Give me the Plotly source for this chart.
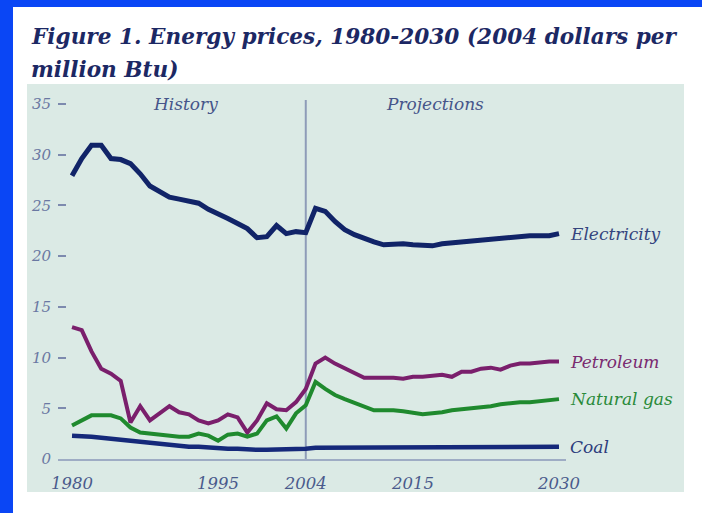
import plotly.graph_objects as go

years = list(range(1980, 2031))

electricity = [27.9, 29.6, 30.9, 30.9, 29.6, 29.5, 29.1, 28.1, 26.9, 26.3,
               25.8, 25.6, 25.4, 25.2, 24.6, 24.2, 23.7, 23.2, 22.7, 21.8,
               21.9, 23.0, 22.2, 22.4, 22.3, 24.7, 24.4, 23.4, 22.6, 22.1,
               21.7, 21.4, 21.1, 21.2, 21.2, 21.1, 21.0, 21.0, 21.2, 21.3,
               21.4, 21.5, 21.6, 21.6, 21.8, 21.9, 21.9, 22.0, 22.0, 22.0,
               22.2]

petroleum = [13.0, 12.7, 10.6, 8.9, 8.4, 7.7, 3.6, 5.2, 3.8, 4.5,
             5.2, 4.6, 4.4, 3.8, 3.5, 3.8, 4.4, 4.1, 2.6, 3.8,
             5.5, 4.9, 4.8, 5.6, 6.9, 9.4, 10.0, 9.4, 8.9, 8.4,
             8.0, 8.0, 8.0, 8.0, 7.9, 8.1, 8.1, 8.2, 8.3, 8.1,
             8.6, 8.6, 8.9, 9.0, 8.8, 9.2, 9.4, 9.4, 9.5, 9.6,
             9.6]

natural_gas = [3.3, 3.8, 4.3, 4.3, 4.3, 4.0, 3.1, 2.6, 2.5, 2.4,
               2.3, 2.2, 2.2, 2.5, 2.3, 1.8, 2.4, 2.5, 2.2, 2.5,
               3.8, 4.2, 3.0, 4.5, 5.3, 7.6, 6.9, 6.3, 5.9, 5.5,
               5.1, 4.8, 4.8, 4.8, 4.7, 4.5, 4.4, 4.5, 4.6, 4.8,
               4.9, 5.0, 5.1, 5.2, 5.4, 5.5, 5.6, 5.6, 5.7, 5.8,
               5.9]

coal = [2.3, 2.3, 2.2, 2.1, 2.0, 1.8, 1.7, 1.6, 1.5, 1.4,
        1.4, 1.3, 1.2, 1.2, 1.1, 1.0, 1.0, 1.0, 0.9, 0.9,
        0.9, 0.9, 0.9, 0.9, 1.0, 1.1, 1.1, 1.2, 1.2, 1.2,
        1.2, 1.2, 1.2, 1.1, 1.1, 1.1, 1.1, 1.1, 1.1, 1.1,
        1.1, 1.1, 1.1, 1.1, 1.1, 1.1, 1.1, 1.1, 1.2, 1.2,
        1.2]

series_names = ["Electricity", "Petroleum", "Natural gas", "Coal"]
series_values = [electricity, petroleum, natural_gas, coal]
line_colors = ["#112468", "#7a1f6c", "#1f8a2e", "#15297a"]
label_colors = ["#34447e", "#7a2a70", "#2a8a3a", "#2c3c7c"]
line_widths = [5, 4, 4, 4.5]

y_tick_vals = [0, 5, 10, 15, 20, 25, 30, 35]
y_tick_text = ["0", "5", "10", "15", "20", "25", "30", "35"]
x_tick_vals = [1980, 1995, 2004, 2015, 2030]
x_tick_text = ["1980", "1995", "2004", "2015", "2030"]
divider_year = 2004
period_labels = ["History", "Projections"]
period_label_x = [1991.6, 2017.3]

title_line1 = "Figure 1. Energy prices, 1980-2030 (2004 dollars per"
title_line2 = "million Btu)"

SERIF = "DejaVu Serif"

fig = go.Figure()
for name, vals, col, w in zip(series_names, series_values, line_colors, line_widths):
    fig.add_trace(go.Scatter(x=years, y=vals, mode="lines", name=name,
                             line=dict(color=col, width=w), showlegend=False,
                             cliponaxis=False))

# layout geometry (pixels)
W, H = 702, 513
L, R, T, B = 58, 136, 95, 54
pw, ph = W - L - R, H - T - B


def fx(px):
    return (px - L) / pw


def fy(py):
    return (H - B - py) / ph


shapes = [
    # green panel
    dict(type="rect", xref="paper", yref="paper", x0=fx(27), x1=fx(684),
         y0=fy(492), y1=fy(84), fillcolor="#dbeae5", line=dict(width=0), layer="below"),
    # blue frame strips
    dict(type="rect", xref="paper", yref="paper", x0=fx(0), x1=fx(13),
         y0=fy(H), y1=fy(0), fillcolor="#0a46f5", line=dict(width=0), layer="below"),
    dict(type="rect", xref="paper", yref="paper", x0=fx(0), x1=fx(W),
         y0=fy(7), y1=fy(0), fillcolor="#0a46f5", line=dict(width=0), layer="below"),
    # history / projections divider
    dict(type="line", xref="x", yref="paper", x0=divider_year, x1=divider_year,
         y0=0, y1=fy(100), line=dict(color="#8e9cb8", width=2), layer="below"),
]

annotations = [
    dict(text="<b><i>" + title_line1 + "</i></b>", xref="paper", yref="paper",
         x=fx(29), y=fy(37), xanchor="left", yanchor="middle", showarrow=False,
         font=dict(family=SERIF, size=21.6, color="#1c2864")),
    dict(text="<b><i>" + title_line2 + "</i></b>", xref="paper", yref="paper",
         x=fx(29), y=fy(69), xanchor="left", yanchor="middle", showarrow=False,
         font=dict(family=SERIF, size=21.6, color="#1c2864")),
]
for lab, lx in zip(period_labels, period_label_x):
    annotations.append(dict(text="<i>" + lab + "</i>", xref="x", yref="y", x=lx, y=35,
                            xanchor="center", yanchor="middle", showarrow=False,
                            font=dict(family=SERIF, size=17, color="#46558a")))
for name, vals, col in zip(series_names, series_values, label_colors):
    annotations.append(dict(text="<i>" + name + "</i>", xref="x", yref="y",
                            x=years[-1], y=vals[-1], xanchor="left", yanchor="middle",
                            xshift=9, showarrow=False,
                            font=dict(family=SERIF, size=17, color=col)))

fig.update_layout(
    width=W, height=H,
    margin=dict(l=L, r=R, t=T, b=B, pad=0),
    paper_bgcolor="white",
    plot_bgcolor="rgba(0,0,0,0)",
    shapes=shapes,
    annotations=annotations,
    xaxis=dict(range=[1978.56, 2030.72], tickvals=x_tick_vals, ticktext=x_tick_text,
               showgrid=False, zeroline=False, showline=True, linecolor="#9eacc4",
               linewidth=2, ticks="", ticklabelstandoff=8,
               tickfont=dict(family=SERIF, size=16.5, color="#4a5a8c"),
               fixedrange=True),
    yaxis=dict(range=[0, ph / 10.15], tickvals=y_tick_vals, ticktext=y_tick_text,
               showgrid=False, zeroline=False, showline=False, ticks="inside",
               ticklen=8, tickwidth=1.5, tickcolor="#7d8aae", ticklabelstandoff=6,
               tickfont=dict(family=SERIF, size=15, color="#6a78a2"),
               fixedrange=True),
)
fig.update_xaxes(tickfont_style="italic")
fig.update_yaxes(tickfont_style="italic")

fig.write_html("out.html", config={"displayModeBar": False},
               post_script="document.body.style.margin='0px';"
                           "document.body.style.overflow='hidden';")
